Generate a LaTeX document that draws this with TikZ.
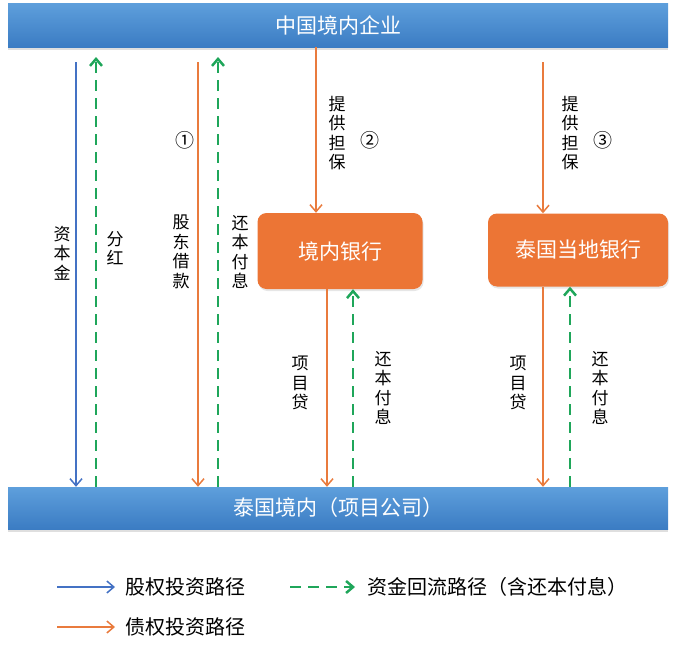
\documentclass[tikz,border=0pt]{standalone}
\usepackage{fontspec}
\setmainfont{Noto Sans CJK SC}
\usetikzlibrary{positioning}
\usetikzlibrary{arrows.meta}
\usetikzlibrary{shadows}
\definecolor{barlight}{HTML}{5E9FDC}
\definecolor{bardark}{HTML}{3B7CC3}
\definecolor{bankfill}{HTML}{EC7535}
\definecolor{eqblue}{HTML}{4472C4}
\definecolor{debtorange}{HTML}{E97B3D}
\definecolor{flowgreen}{HTML}{1FA65A}
\tikzset{
    bar/.style = {rectangle, minimum width=660pt, minimum height=44pt, top color=barlight, bottom color=bardark, text=white, font=\fontsize{21}{21}\selectfont, drop shadow={shadow xshift=0pt, shadow yshift=-3pt, opacity=0.25}},
    bank/.style = {rectangle, rounded corners=9pt, fill=bankfill, text=white, font=\fontsize{21}{21}\selectfont, drop shadow={shadow xshift=1pt, shadow yshift=-2pt, opacity=0.2}},
    vtext/.style = {align=center, inner sep=0pt, font=\fontsize{17}{19.5}\selectfont},
    num/.style = {inner sep=0pt, font=\fontsize{19}{19}\selectfont},
    legtext/.style = {anchor=west, inner sep=0pt, font=\fontsize{20}{20}\selectfont},
    edgeb/.style = {-{Straight Barb[length=7pt,width=12pt]}, line width=1.5pt, eqblue},
    edgeo/.style = {-{Straight Barb[length=7pt,width=12pt]}, line width=1.5pt, debtorange},
    edgeg/.style = {-{Straight Barb[length=7pt,width=12pt]}, line width=2.5pt, flowgreen, dash pattern=on 11pt off 7pt},
}

\begin{document}
\begin{tikzpicture}[x=1pt,y=-1pt]
\useasboundingbox (0,0) rectangle (675,645);
\node[bar] at (338, 25) (cn) {中国境内企业};
\node[bar, minimum height=42pt] at (338, 508) (th) {泰国境内（项目公司）};
\node[bank, minimum width=165pt, minimum height=76pt] at (340, 251) (bank1) {境内银行};
\node[bank, minimum width=180pt, minimum height=73pt] at (578, 250) (bank2) {泰国当地银行};
%
\coordinate (eq) at (76, 62);
\coordinate (div) at (96, 57);
\coordinate (loan) at (198, 62);
\coordinate (rep) at (218, 57);
\coordinate (guar) at (543, 62);
\draw[edgeb] (eq) -- (eq |- th.north);
\draw[edgeg] (div |- th.north) -- (div);
\draw[edgeo] (loan) -- (loan |- th.north);
\draw[edgeg] (rep |- th.north) -- (rep);
\draw[edgeo] (316, 0 |- cn.south) -- (316, 0 |- bank1.north);
\draw[edgeo] (guar) -- (guar |- bank2.north);
\draw[edgeo] (327, 0 |- bank1.south) -- (327, 0 |- th.north);
\draw[edgeg] (353, 0 |- th.north) -- (353, 0 |- bank1.south);
\draw[edgeo] (543, 0 |- bank2.south) -- (543, 0 |- th.north);
\draw[edgeg] (570, 0 |- th.north) -- (570, 0 |- bank2.south);
%
\node[vtext] at (62, 253) (l1) {资\\本\\金};
\node[vtext] at (115, 248) (l2) {分\\红};
\node[vtext] at (181, 252) (l3) {股\\东\\借\\款};
\node[num] at (185, 140) (n1) {①};
\node[vtext] at (240, 252) (l4) {还\\本\\付\\息};
\node[vtext] at (337, 133) (l5) {提\\供\\担\\保};
\node[num] at (370, 140) (n2) {②};
\node[vtext] at (570, 133) (l6) {提\\供\\担\\保};
\node[num] at (603, 140) (n3) {③};
\node[vtext] at (300, 383) (l7) {项\\目\\贷};
\node[vtext] at (383, 388) (l8) {还\\本\\付\\息};
\node[vtext] at (518, 383) (l9) {项\\目\\贷};
\node[vtext] at (600, 388) (l10) {还\\本\\付\\息};
%
\coordinate (k1) at (57, 587);
\coordinate (k2) at (290, 587);
\coordinate (k3) at (57, 627);
\node[legtext] at (125, 587) (t1) {股权投资路径};
\node[legtext] at (367, 587) (t2) {资金回流路径（含还本付息）};
\node[legtext] at (125, 627) (t3) {债权投资路径};
\draw[edgeb] (k1) -- ([xshift=-10pt]t1.west);
\draw[edgeg] (k2) -- ([xshift=-12pt]t2.west);
\draw[edgeo] (k3) -- ([xshift=-10pt]t3.west);
\end{tikzpicture}
\end{document}
